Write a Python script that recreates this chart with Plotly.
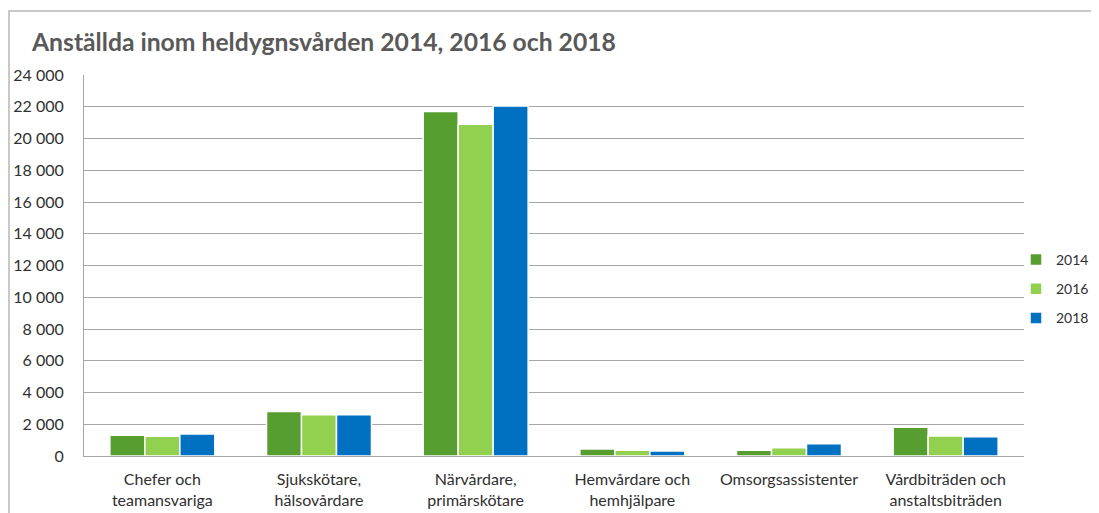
import plotly.graph_objects as go

categories = ["Chefer och<br>teamansvariga", "Sjukskötare,<br>hälsovårdare",
              "Närvårdare,<br>primärskötare", "Hemvårdare och<br>hemhjälpare",
              "Omsorgsassistenter", "Vårdbiträden och<br>anstaltsbiträden"]
years = ["2014", "2016", "2018"]
values_2014 = [1300, 2810, 21700, 440, 360, 1810]
values_2016 = [1240, 2600, 20900, 360, 520, 1260]
values_2018 = [1390, 2600, 22050, 310, 770, 1220]
colors = ["#559E2F", "#92D050", "#0070C0"]

fig = go.Figure()
for name, vals, col in zip(years, [values_2014, values_2016, values_2018], colors):
    fig.add_trace(go.Bar(name=name, x=categories, y=vals, legendgroup=name,
                         marker=dict(color=col, line=dict(color="white", width=1.5))))

FONT = "Lato"
TXT = "#303030"
W, H = 1091, 505          # page body has an 8px margin
L, R, T, B = 76, 75, 67, 57
PW, PH = W - L - R, H - T - B

fig.update_layout(
    width=W, height=H,
    barmode="group", bargap=0.33, bargroupgap=0.0,
    plot_bgcolor="white", paper_bgcolor="white",
    margin=dict(l=L, r=R, t=T, b=B, autoexpand=False),
    separators=", ",
    font=dict(family=FONT, size=16, color=TXT),
    title=dict(text="<b>Anställda inom heldygnsvården 2014, 2016 och 2018</b>",
               x=24/W, xanchor="left", y=1-34/H, yanchor="middle",
               font=dict(family=FONT, size=24.7, color="#595959")),
    legend=dict(xref="container", yref="container",
                x=1008/W, y=1-281/H, xanchor="left", yanchor="middle",
                font=dict(family=FONT, size=14, color=TXT),
                itemwidth=30, tracegroupgap=8, bgcolor="rgba(0,0,0,0)"),
    showlegend=True,
)
fig.update_yaxes(range=[0, 24000], dtick=2000, tickformat=",d",
                 showgrid=True, gridcolor="#A6A6A6", gridwidth=1,
                 showline=True, linecolor="#A6A6A6", linewidth=1,
                 ticks="", ticklabelstandoff=16, zeroline=False, automargin=False,
                 tickfont=dict(size=16, color=TXT))
fig.update_xaxes(showline=True, linecolor="#A6A6A6", linewidth=1, automargin=False,
                 ticks="", ticklabelstandoff=9, tickfont=dict(size=16, color=TXT))

# outer chart border
fig.add_shape(type="rect", xref="paper", yref="paper",
              x0=(1-L)/PW, x1=(W+20-L)/PW, y0=(PH-(H+20-T))/PH, y1=(PH-(3-T))/PH,
              line=dict(color="#C8C8C8", width=2), layer="below")

fig.write_html("out.html")
